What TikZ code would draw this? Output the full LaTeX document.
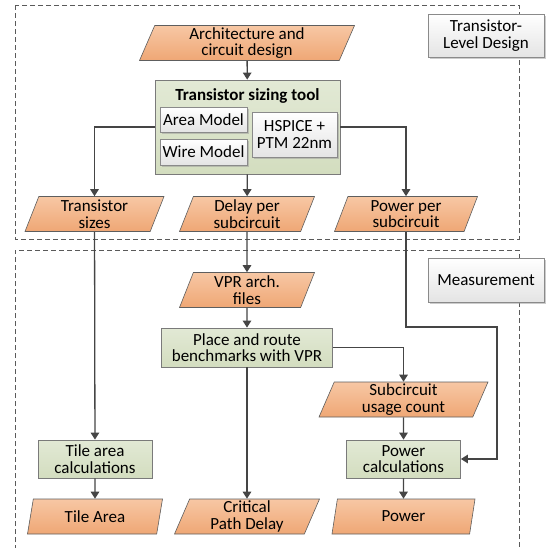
\documentclass[tikz,border=0pt]{standalone}
\usepackage{fontspec}
\setmainfont{Carlito}
\usetikzlibrary{shapes.geometric,arrows.meta,shadows}
\definecolor{ioTop}{HTML}{F7C7A4}
\definecolor{ioBot}{HTML}{EFA775}
\definecolor{ioLine}{HTML}{5E5E5E}
\definecolor{procTop}{HTML}{E2E9D5}
\definecolor{procBot}{HTML}{D3DDBF}
\definecolor{procLine}{HTML}{7A7A7A}
\definecolor{tagBot}{HTML}{E4E4E4}
\definecolor{tagLine}{HTML}{8A8A8A}
\definecolor{flowGrey}{HTML}{454545}
\definecolor{dashGrey}{HTML}{5A5A5A}

\begin{document}
\begin{tikzpicture}[x=1pt,y=-1pt,
  font=\fontsize{17}{16.5}\selectfont,
  iobox/.style={trapezium, trapezium left angle=64, trapezium right angle=116,
    trapezium stretches body, draw=ioLine, line width=0.6pt,
    top color=ioTop, bottom color=ioBot, minimum height=35, inner sep=0pt, align=center},
  procbox/.style={rectangle, draw=procLine, line width=0.8pt,
    top color=procTop, bottom color=procBot, inner sep=0pt, align=center},
  tagbox/.style={rectangle, draw=tagLine, line width=0.8pt, top color=white, bottom color=tagBot,
    inner sep=0pt, align=center,
    drop shadow={shadow xshift=1.5pt, shadow yshift=-1.5pt, fill=black!40}},
  flow/.style={draw=flowGrey, line width=1.3pt, -{Triangle[length=7pt,width=8.5pt]}},
  region/.style={draw=dashGrey, line width=0.9pt, dash pattern=on 5pt off 3pt}]
\useasboundingbox (0,0) rectangle (552,547);

% design regions
\draw[region] (15,5) rectangle (519,239);
\draw[region] (15,550) -- (15,250) -- (519,250) -- (519,550);
\node[tagbox, minimum width=116, minimum height=43] (tagDesign) at (486,35.5) {Transistor-\\Level Design};
\node[tagbox, minimum width=116, minimum height=44] (tagMeas) at (486,280) {Measurement};

% transistor-level design
\node[iobox, minimum width=215] (arch) at (247,43) {Architecture and\\circuit design};
\node[procbox, minimum width=185, minimum height=94] (tool) at (247.5,127) {};
\node[font=\fontsize{17}{16.5}\selectfont\bfseries] (toolTitle) at (247.5,96) {Transistor sizing tool};
\node[tagbox, minimum width=87, minimum height=25] (area) at (203.5,119.5) {Area Model};
\node[tagbox, minimum width=87, minimum height=26] (wire) at (203.5,152) {Wire Model};
\node[tagbox, minimum width=85, minimum height=45] (spice) at (294.5,134.5) {HSPICE +\\PTM 22nm};
\node[iobox, minimum width=139] (tsizes) at (94.5,214) {Transistor\\sizes};
\node[iobox, minimum width=135] (delay) at (247,214) {Delay per\\subcircuit};
\node[iobox, minimum width=143] (spower) at (406,214) {Power per\\subcircuit};
%

% measurement
\node[iobox, minimum width=135] (vpr) at (247,290) {VPR arch.\\files};
\node[procbox, minimum width=171, minimum height=39] (place) at (247,347.5) {Place and route\\benchmarks with VPR};
\node[iobox, minimum width=169] (usage) at (403.5,399.5) {Subcircuit\\usage count};
\node[procbox, minimum width=114, minimum height=38] (tcalc) at (95,459) {Tile area\\calculations};
\node[procbox, minimum width=114, minimum height=38] (pcalc) at (403.5,459) {Power\\calculations};
\node[iobox, minimum width=135] (tarea) at (95,516.5) {Tile Area};
\node[iobox, minimum width=145] (cpd) at (247,516.5) {Critical\\Path Delay};
\node[iobox, minimum width=143] (power) at (403.5,516.5) {Power};
\coordinate (pbend) at (497,327);
%

% connectors
\draw[flow] (arch) -- (tool);
\draw[flow] (tool.west) -| (tsizes.north);
\draw[flow] (tool) -- (delay);
\draw[flow] (tool.east) -| (spower.north);
\draw[flow] (tsizes) -- (tcalc);
\draw[flow] (delay) -- (vpr);
\draw[flow] (vpr) -- (place);
\draw[flow] (place.east) -| (usage.north);
\draw[flow] (place) -- (cpd);
\draw[flow] (usage) -- (pcalc);
\draw[flow] (spower.south) |- (pbend) |- (pcalc.east);
\draw[flow] (tcalc) -- (tarea);
\draw[flow] (pcalc) -- (power);
%
\end{tikzpicture}
\end{document}
